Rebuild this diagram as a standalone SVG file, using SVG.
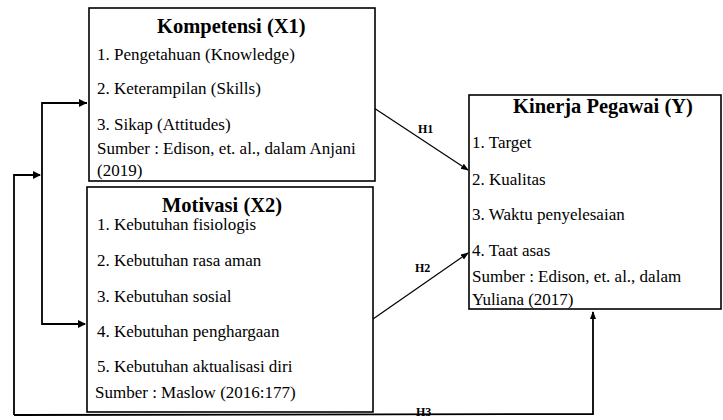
<svg xmlns="http://www.w3.org/2000/svg" width="723" height="420" viewBox="0 0 723 420">
<style>
.box{fill:#fff;stroke:#000;stroke-width:1.6}
text{font-family:"Liberation Serif","Times New Roman","DejaVu Serif",Tinos,serif;fill:#000}
.t{font-size:20.5px;font-weight:bold}
.b{font-size:17px}
.h{font-size:12px;font-weight:bold}
.c{fill:none;stroke:#000;stroke-width:1.8}
.d{fill:none;stroke:#000;stroke-width:1.2}
</style>
<defs>
<marker id="ah" markerWidth="8" markerHeight="8" refX="7" refY="4" orient="auto" markerUnits="userSpaceOnUse">
<path d="M0,0 L8,4 L0,8 Z" fill="#000"/>
</marker>
<marker id="as" markerWidth="8" markerHeight="8" refX="7" refY="4" orient="auto" markerUnits="userSpaceOnUse">
<path d="M0,1 L8,4 L0,7 Z" fill="#000"/>
</marker>
</defs>
<g id="connectors">
<polyline class="c" points="14,415 14,175 40,175" marker-end="url(#ah)"/>
<polyline class="c" points="87,103 42,103 42,324 85,324" marker-end="url(#ah)"/>
<line class="c" x1="42" y1="103" x2="86" y2="103" marker-end="url(#ah)"/>
<polyline class="c" points="14,415 593,414 593,312" marker-end="url(#as)"/>
<line class="d" x1="374" y1="108" x2="468" y2="170" marker-end="url(#as)"/>
<line class="d" x1="373" y1="319" x2="468" y2="253" marker-end="url(#as)"/>
<text class="h" x="418" y="133">H1</text>
<text class="h" x="415" y="272">H2</text>
<text class="h" x="416" y="416">H3</text>
</g>
<g id="x1">
<rect class="box" x="89" y="8" width="286" height="173"/>
<text class="t" x="157" y="33">Kompetensi (X1)</text>
<text class="b" x="97" y="60">1. Pengetahuan (Knowledge)</text>
<text class="b" x="97" y="94">2. Keterampilan (Skills)</text>
<text class="b" x="97" y="130">3. Sikap (Attitudes)</text>
<text class="b" x="97" y="154">Sumber : Edison, et. al., dalam Anjani</text>
<text class="b" x="97" y="176">(2019)</text>
</g>
<g id="x2">
<rect class="box" x="87" y="187" width="286" height="225"/>
<text class="t" x="162" y="212">Motivasi (X2)</text>
<text class="b" x="97" y="230">1. Kebutuhan fisiologis</text>
<text class="b" x="97" y="266">2. Kebutuhan rasa aman</text>
<text class="b" x="97" y="302">3. Kebutuhan sosial</text>
<text class="b" x="97" y="337">4. Kebutuhan penghargaan</text>
<text class="b" x="97" y="372">5. Kebutuhan aktualisasi diri</text>
<text class="b" x="95" y="398">Sumber : Maslow (2016:177)</text>
</g>
<g id="y">
<rect class="box" x="469" y="95" width="252" height="214"/>
<text class="t" x="513" y="113">Kinerja Pegawai (Y)</text>
<text class="b" x="472" y="148">1. Target</text>
<text class="b" x="472" y="185">2. Kualitas</text>
<text class="b" x="472" y="220">3. Waktu penyelesaian</text>
<text class="b" x="472" y="256">4. Taat asas</text>
<text class="b" x="472" y="282">Sumber : Edison, et. al., dalam</text>
<text class="b" x="472" y="305">Yuliana (2017)</text>
</g>
</svg>
